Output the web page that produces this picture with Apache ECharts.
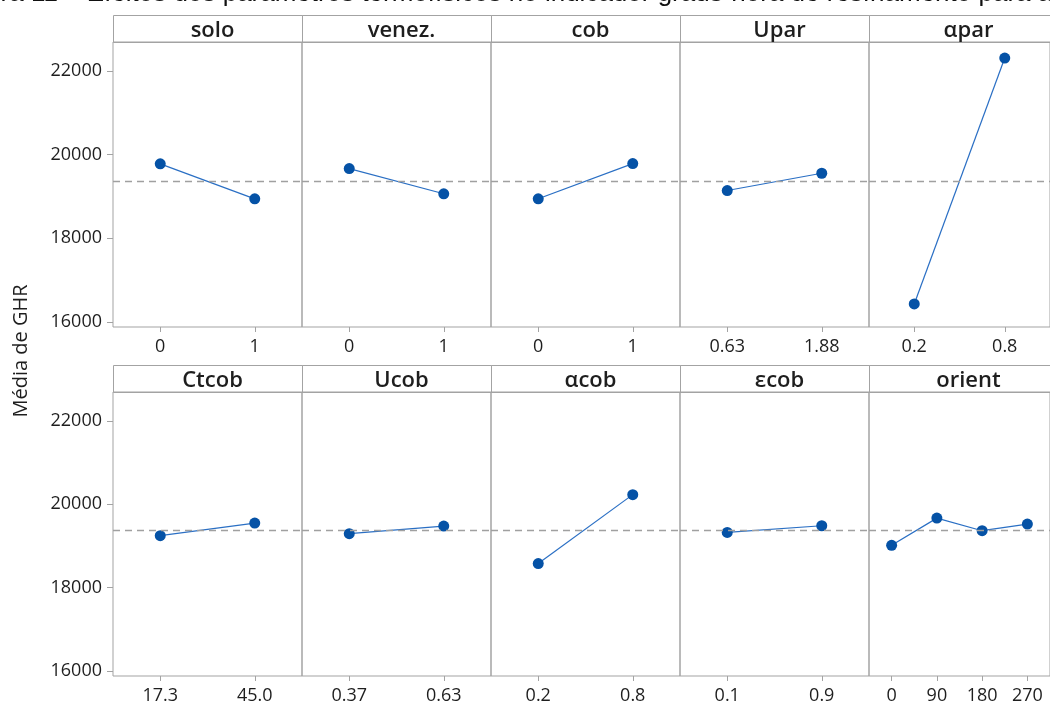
<!DOCTYPE html>
<html>
<head>
<meta charset="utf-8">
<script src="https://cdn.jsdelivr.net/npm/echarts@6/dist/echarts.min.js"></script>
<style>
    html, body { margin: 0; padding: 0; background: #fff; }
    #grafico { width: 1050px; height: 709px; }
</style>
</head>
<body>
<div id="grafico"></div>
<script>
// fatores e niveis
var fatores = ['solo', 'venez.', 'cob', 'Upar', 'αpar', 'Ctcob', 'Ucob', 'αcob', 'εcob', 'orient'];
var niveis = [
    ['0', '1'],
    ['0', '1'],
    ['0', '1'],
    ['0.63', '1.88'],
    ['0.2', '0.8'],
    ['17.3', '45.0'],
    ['0.37', '0.63'],
    ['0.2', '0.8'],
    ['0.1', '0.9'],
    ['0', '90', '180', '270']
];
// media de GHR por nivel
var medias = [
    [19778, 18943],
    [19666, 19063],
    [18943, 19785],
    [19141, 19554],
    [16430, 22306],
    [19244, 19547],
    [19292, 19475],
    [18577, 20229],
    [19323, 19483],
    [19013, 19666, 19364, 19523]
];
var mediaGeral = 19365;
var yTicks = [16000, 18000, 20000, 22000];

var fonte = 'Open Sans';
var cinza = '#a3a3a3';
var larg = 189;
var esq = 113;
var topos = [42, 392];
var alturas = [285, 284];
var stripH = 27;

var myChart = echarts.init(document.getElementById('grafico'));

var grids = [], xAxes = [], yAxes = [], series = [], titulos = [], graficos = [];

for (var i = 0; i < fatores.length; i++) {
    var linha = Math.floor(i / 5);
    var col = i % 5;
    var x0 = esq + col * larg;
    grids.push({
        left: x0,
        top: topos[linha],
        width: larg,
        height: alturas[linha],
        show: true,
        borderColor: cinza,
        borderWidth: 1,
        backgroundColor: 'transparent'
    });
    xAxes.push({
        type: 'category',
        gridIndex: i,
        data: niveis[i],
        boundaryGap: true,
        axisLine: { show: false },
        axisTick: { show: true, alignWithLabel: true, length: 5, lineStyle: { color: cinza } },
        axisLabel: { margin: 11, fontSize: 18, color: '#1e1e1e', fontFamily: fonte, interval: 0 },
        splitLine: { show: false }
    });
    yAxes.push({
        type: 'value',
        gridIndex: i,
        min: 15880,
        max: 22690,
        axisLine: { show: false },
        axisTick: { show: col == 0, length: 6, customValues: yTicks, lineStyle: { color: cinza } },
        axisLabel: {
            show: col == 0, margin: 11, fontSize: 18, color: '#1e1e1e', fontFamily: fonte,
            customValues: yTicks,
            formatter: function (v) { return String(v); }
        },
        splitLine: { show: false }
    });
    series.push({
        type: 'line',
        xAxisIndex: i,
        yAxisIndex: i,
        data: medias[i],
        symbol: 'circle',
        symbolSize: 11,
        itemStyle: { color: '#0552a6' },
        lineStyle: { color: '#2a6fc4', width: 1.2 },
        animation: false,
        markLine: {
            silent: true,
            symbol: 'none',
            label: { show: false },
            lineStyle: { color: '#a0a0a0', type: [7, 5], width: 1.3 },
            data: [{ yAxis: mediaGeral }]
        }
    });
    titulos.push({
        text: fatores[i],
        left: x0 + larg / 2,
        top: topos[linha] - stripH,
        textAlign: 'center',
        textStyle: { fontSize: 22, fontWeight: 600, color: '#1e1e1e', fontFamily: fonte }
    });
    graficos.push({
        type: 'rect',
        shape: { x: x0 + 0.5, y: topos[linha] - stripH + 0.5, width: larg, height: stripH },
        style: { fill: 'none', stroke: cinza, lineWidth: 1 }
    });
}

// rotulo do eixo y
graficos.push({
    type: 'text',
    x: 11,
    y: 351,
    rotation: Math.PI / 2,
    style: {
        text: 'Média de GHR',
        fontSize: 20,
        fontFamily: fonte,
        fill: '#1e1e1e',
        align: 'center',
        verticalAlign: 'top'
    }
});
// legenda da figura cortada no topo
graficos.push({
    type: 'text',
    x: -50,
    y: -6,
    style: {
        text: 'Figura 11 – Efeitos dos parâmetros termofísicos no indicador graus-hora de resfriamento para as',
        fontSize: 26,
        fontFamily: 'Liberation Sans',
        fill: '#111',
        verticalAlign: 'middle'
    }
});

myChart.setOption({
    animation: false,
    title: titulos,
    grid: grids,
    xAxis: xAxes,
    yAxis: yAxes,
    series: series,
    graphic: graficos
});
</script>
</body>
</html>
